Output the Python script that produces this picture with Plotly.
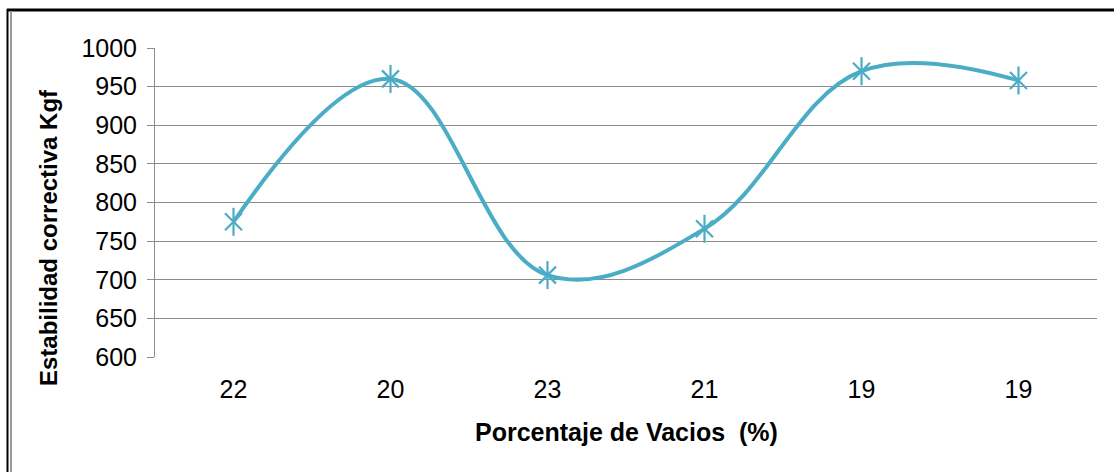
import plotly.graph_objects as go

# Porcentaje de vacíos (category labels, some repeated) and corrected stability
vacios_labels = ["22", "20", "23", "21", "19", "19"]
estabilidad = [775, 960, 706, 766, 970, 958]
y_ticks = [600, 650, 700, 750, 800, 850, 900, 950, 1000]

positions = list(range(len(vacios_labels)))
teal = "#4BACC6"
font_family = "Liberation Sans, Arial, sans-serif"

fig = go.Figure()

# smooth curve through the points
fig.add_trace(go.Scatter(
    x=positions, y=estabilidad, mode="lines",
    line=dict(color=teal, width=4, shape="spline", smoothing=1.1),
    hoverinfo="skip", showlegend=False,
))
# six-armed star markers: diagonal cross plus vertical bar
fig.add_trace(go.Scatter(
    x=positions, y=estabilidad, mode="markers",
    marker=dict(symbol="x-thin-open", size=17, color=teal,
                line=dict(color=teal, width=2.2)),
    showlegend=False,
))
fig.add_trace(go.Scatter(
    x=positions, y=estabilidad, mode="markers",
    marker=dict(symbol="line-ns-open", size=20, color=teal,
                line=dict(color=teal, width=2.2)),
    showlegend=False,
))

L, R, T, B = 155, 17, 48, 115
W, H = 1114, 472
pw, ph = W - L - R, H - T - B

def px_x(p):
    return (p - L) / pw

def px_y(p):
    return (H - B - p) / ph

fig.update_layout(
    width=W, height=H,
    margin=dict(l=L, r=R, t=T, b=B, pad=0),
    paper_bgcolor="white", plot_bgcolor="white",
    font=dict(family=font_family, size=25, color="#000000"),
    xaxis=dict(
        range=[-0.5, len(vacios_labels) - 0.5],
        tickmode="array", tickvals=positions, ticktext=vacios_labels,
        showgrid=False, zeroline=False, showline=False, ticks="",
        ticklabelstandoff=15,
        tickfont=dict(size=25, family=font_family, color="#000000"),
    ),
    yaxis=dict(
        range=[600, 1000],
        tickmode="array", tickvals=y_ticks,
        showgrid=True, gridcolor="#8c8c8c", gridwidth=1,
        zeroline=False, showline=True, linecolor="#8c8c8c", linewidth=1,
        ticks="outside", ticklen=7, tickcolor="#8c8c8c",
        ticklabelstandoff=5,
        tickfont=dict(size=25, family=font_family, color="#000000"),
    ),
    annotations=[
        dict(text="<b>Estabilidad correctiva Kgf</b>", textangle=-90,
             xref="paper", yref="paper", x=px_x(48), y=px_y(238),
             xanchor="center", yanchor="middle", showarrow=False,
             font=dict(size=24, family=font_family, color="#000000")),
        dict(text="<b>Porcentaje de Vacios  (%)</b>",
             xref="paper", yref="paper", x=px_x(626), y=px_y(432),
             xanchor="center", yanchor="middle", showarrow=False,
             font=dict(size=25, family=font_family, color="#000000")),
    ],
    shapes=[
        # frame: black top edge, double left edge
        dict(type="line", xref="paper", yref="paper",
             x0=px_x(7), x1=px_x(W + 5), y0=px_y(10), y1=px_y(10),
             line=dict(color="#000000", width=3)),
        dict(type="line", xref="paper", yref="paper",
             x0=px_x(7.5), x1=px_x(7.5), y0=px_y(9), y1=px_y(H + 5),
             line=dict(color="#000000", width=2)),
        dict(type="line", xref="paper", yref="paper",
             x0=px_x(11), x1=px_x(11), y0=px_y(11), y1=px_y(H + 5),
             line=dict(color="#9a9a9a", width=2)),
    ],
)

fig.write_html("out.html")
